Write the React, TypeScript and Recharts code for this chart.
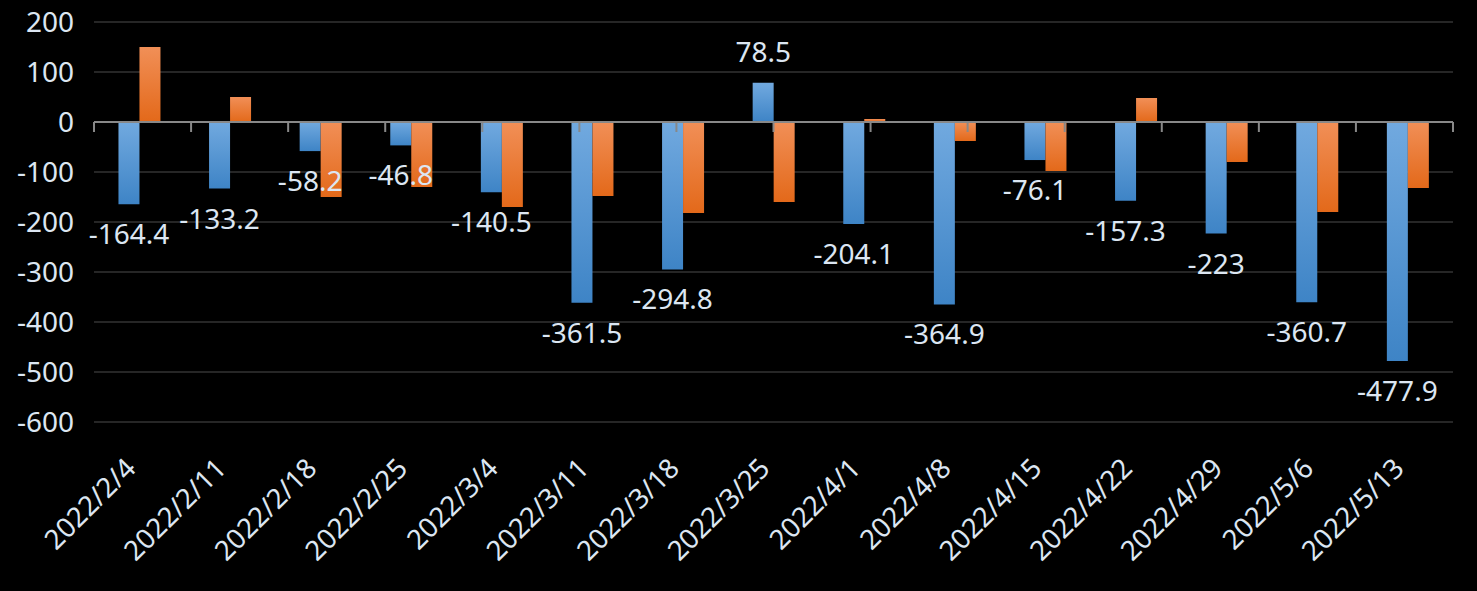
import React from 'react';
import { BarChart, Bar, XAxis, YAxis, CartesianGrid, ReferenceLine, LabelList } from 'recharts';

const dates = [
  '2022/2/4', '2022/2/11', '2022/2/18', '2022/2/25', '2022/3/4', '2022/3/11', '2022/3/18', '2022/3/25',
  '2022/4/1', '2022/4/8', '2022/4/15', '2022/4/22', '2022/4/29', '2022/5/6', '2022/5/13',
];
const blueValues = [-164.4, -133.2, -58.2, -46.8, -140.5, -361.5, -294.8, 78.5, -204.1, -364.9, -76.1, -157.3, -223, -360.7, -477.9];
const orangeValues = [150, 50, -150, -130, -170, -148, -182, -160, 6, -38, -98, 48, -80, -180, -132];
const yTicks = [-600, -500, -400, -300, -200, -100, 0, 100, 200];
const boundaries = Array.from({ length: dates.length + 1 }, (_, i) => i);

const data = dates.map((date, i) => ({ date, blue: blueValues[i], orange: orangeValues[i] }));

const TEXT = '#dce6f2';
const FONT = '"Noto Sans", "Open Sans", sans-serif';

const YTick = (props: any) => {
  const { y, payload } = props;
  return (
    <text x={74} y={y} dy={10} textAnchor="end" fill={TEXT} fontSize={28} fontFamily={FONT}>
      {payload.value}
    </text>
  );
};

const XTick = (props: any) => {
  const { x, y, payload } = props;
  const ax = x - 2;
  const ay = y + 40;
  return (
    <text x={ax} y={ay} textAnchor="end" fill={TEXT} fontSize={27.5} fontFamily={FONT} transform={`rotate(-45, ${ax}, ${ay})`}>
      {payload.value}
    </text>
  );
};

const BlueLabel = (props: any) => {
  const { x, y, width, height, value } = props;
  const top = Math.min(y, y + height);
  const bottom = Math.max(y, y + height);
  const cx = x + width / 2;
  const cy = value < 0 ? bottom + 30 : top - 31;
  return (
    <text x={cx} y={cy} dy={10} textAnchor="middle" fill={TEXT} fontSize={28} fontFamily={FONT}>
      {value}
    </text>
  );
};

export default function App() {
  return (
    <div style={{ position: 'absolute', left: 0, top: 0, width: 1477, height: 591, background: '#000' }}>
      <BarChart
        width={1477}
        height={591}
        data={data}
        margin={{ top: 22, right: 24, left: 0, bottom: 0 }}
        barCategoryGap="27%"
        barGap={0}
      >
        <defs>
          <linearGradient id="blueGrad" x1="0" y1="0" x2="0" y2="1">
            <stop offset="0%" stopColor="#71a9df" />
            <stop offset="100%" stopColor="#3e84c6" />
          </linearGradient>
          <linearGradient id="orangeGrad" x1="0" y1="0" x2="0" y2="1">
            <stop offset="0%" stopColor="#f18f57" />
            <stop offset="100%" stopColor="#e3691a" />
          </linearGradient>
        </defs>
        <CartesianGrid vertical={false} stroke="#262626" strokeWidth={2} />
        <XAxis
          dataKey="date"
          height={169}
          axisLine={false}
          tickLine={false}
          interval={0}
          tick={<XTick />}
        />
        <XAxis xAxisId="b" type="number" domain={[0, dates.length]} hide />
        <YAxis
          domain={[-600, 200]}
          ticks={yTicks}
          width={94}
          axisLine={false}
          tickLine={false}
          tick={<YTick />}
          interval={0}
        />
        <Bar dataKey="blue" fill="url(#blueGrad)" isAnimationActive={false}>
          <LabelList dataKey="blue" content={<BlueLabel />} />
        </Bar>
        <Bar dataKey="orange" fill="url(#orangeGrad)" isAnimationActive={false} />
        <ReferenceLine y={0} stroke="#888888" strokeWidth={2} />
        {boundaries.map((b) => (
          <ReferenceLine
            key={b}
            xAxisId="b"
            stroke="#888888"
            strokeWidth={2}
            segment={[{ x: b, y: 0 }, { x: b, y: -20 }]}
          />
        ))}
      </BarChart>
    </div>
  );
}
